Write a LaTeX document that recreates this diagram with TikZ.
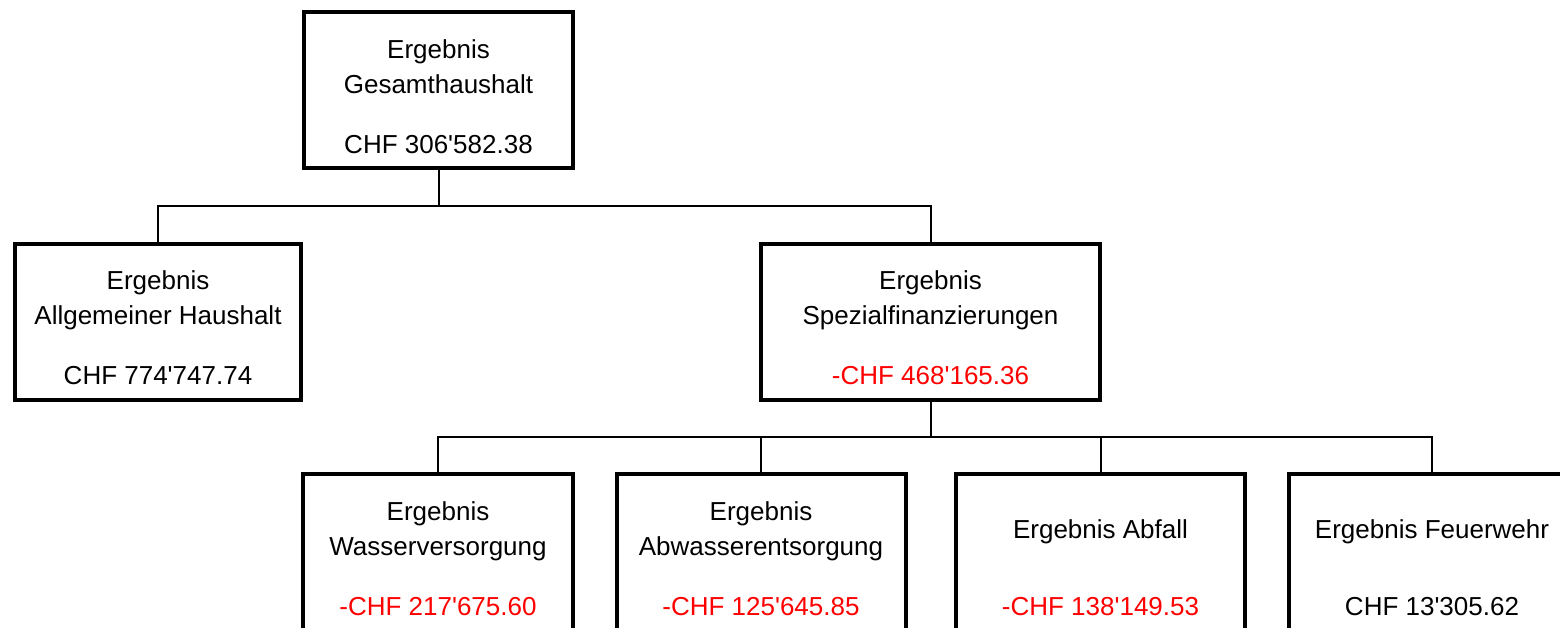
\documentclass[tikz,border=0pt]{standalone}
\usepackage{fontspec}
\setmainfont{Liberation Sans}
\newcommand{\tsd}{\textquotesingle}
\begin{document}
\begin{tikzpicture}[
    x=1pt, y=-1pt,
    box/.style={draw, line width=4pt, minimum width=#1, minimum height=156pt, inner sep=0pt},
    lbl/.style={anchor=base, inner sep=0pt, font=\fontsize{26}{30}\selectfont},
    neg/.style={lbl, text=red},
    conn/.style={line width=2pt}
  ]
  \clip (0,0) rectangle (1560,627);
  % boxes
  \node[box=269pt] (gesamt) at (438.5,90) {};
  \node[box=286pt] (allg) at (158,321.5) {};
  \node[box=339pt] (spez) at (930.5,321.5) {};
  \node[box=270pt] (wasser) at (438,552) {};
  \node[box=289pt] (abwasser) at (761,552) {};
  \node[box=289pt] (abfall) at (1100.5,552) {};
  \node[box=286pt] (feuer) at (1432,552) {};
  % texts
  \node[lbl] (gesamt1) at ([yshift=-48pt]gesamt.north) {Ergebnis};
  \node[lbl] (gesamt2) at ([yshift=-83pt]gesamt.north) {Gesamthaushalt};
  \node[lbl] (gesamt3) at ([yshift=-143pt]gesamt.north) {CHF 306\tsd 582.38};
  \node[lbl] (allg1) at ([yshift=-48pt]allg.north) {Ergebnis};
  \node[lbl] (allg2) at ([yshift=-83pt]allg.north) {Allgemeiner Haushalt};
  \node[lbl] (allg3) at ([yshift=-143pt]allg.north) {CHF 774\tsd 747.74};
  \node[lbl] (spez1) at ([yshift=-48pt]spez.north) {Ergebnis};
  \node[lbl] (spez2) at ([yshift=-83pt]spez.north) {Spezialfinanzierungen};
  \node[neg] (spez3) at ([yshift=-143pt]spez.north) {-CHF 468\tsd 165.36};
  \node[lbl] (wasser1) at ([yshift=-48pt]wasser.north) {Ergebnis};
  \node[lbl] (wasser2) at ([yshift=-83pt]wasser.north) {Wasserversorgung};
  \node[neg] (wasser3) at ([yshift=-143pt]wasser.north) {-CHF 217\tsd 675.60};
  \node[lbl] (abwasser1) at ([yshift=-48pt]abwasser.north) {Ergebnis};
  \node[lbl] (abwasser2) at ([yshift=-83pt]abwasser.north) {Abwasserentsorgung};
  \node[neg] (abwasser3) at ([yshift=-143pt]abwasser.north) {-CHF 125\tsd 645.85};
  \node[lbl] (abfall1) at ([yshift=-66pt]abfall.north) {Ergebnis Abfall};
  \node[neg] (abfall2) at ([yshift=-143pt]abfall.north) {-CHF 138\tsd 149.53};
  \node[lbl] (feuer1) at ([yshift=-66pt]feuer.north) {Ergebnis Feuerwehr};
  \node[lbl] (feuer2) at ([yshift=-143pt]feuer.north) {CHF 13\tsd 305.62};
  % connectors
  \coordinate (bus1) at (438.5,206);
  \coordinate (bus2) at (930.5,437);
  \draw[conn] (gesamt.south) -- (bus1);
  \draw[conn] (allg.north) |- (bus1) -| (spez.north);
  \draw[conn] (spez.south) -- (bus2);
  \draw[conn] (wasser.north) |- (bus2) -| (feuer.north);
  \draw[conn] (abwasser.north) -- (abwasser.north |- bus2);
  \draw[conn] (abfall.north) -- (abfall.north |- bus2);
\end{tikzpicture}
\end{document}
